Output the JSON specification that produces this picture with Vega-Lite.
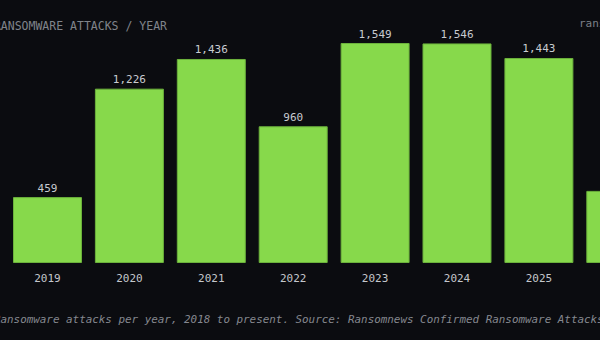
{
  "$schema": "https://vega.github.io/schema/vega-lite/v6.json",
  "width": 600,
  "height": 219,
  "autosize": {"type": "none"},
  "padding": {"left": 0, "right": 0, "top": 43.5, "bottom": 77.5},
  "background": "#0b0c10",
  "title": {
    "text": "ransomnews.online",
    "anchor": "end",
    "frame": "group",
    "align": "left",
    "dx": -21,
    "dy": 17,
    "baseline": "alphabetic",
    "offset": 0,
    "font": "DejaVu Sans Mono",
    "fontSize": 11,
    "fontWeight": "normal",
    "color": "#7c8088"
  },
  "data": {
    "values": [
      {"year": "2019", "attacks": 459},
      {"year": "2020", "attacks": 1226},
      {"year": "2021", "attacks": 1436},
      {"year": "2022", "attacks": 960},
      {"year": "2023", "attacks": 1549},
      {"year": "2024", "attacks": 1546},
      {"year": "2025", "attacks": 1443},
      {"year": "2026", "attacks": 503}
    ]
  },
  "encoding": {
    "x": {
      "field": "year",
      "type": "ordinal",
      "scale": {
        "domain": ["2019", "2020", "2021", "2022", "2023", "2024", "2025", "2026"],
        "range": [13.5, 654.8],
        "paddingInner": 0.17,
        "paddingOuter": 0
      },
      "axis": {
        "orient": "bottom",
        "domain": false,
        "ticks": false,
        "grid": false,
        "labelAngle": 0,
        "labelColor": "#c4c7cc",
        "labelFont": "DejaVu Sans Mono",
        "labelFontSize": 11,
        "labelPadding": 10,
        "title": "Ransomware attacks per year, 2018 to present. Source: Ransomnews Confirmed Ransomware Attacks dataset",
        "titleFont": "DejaVu Sans Mono",
        "titleFontSize": 10.9,
        "titleFontStyle": "italic",
        "titleFontWeight": "normal",
        "titleColor": "#85888f",
        "titleAlign": "left",
        "titleAnchor": "start",
        "titleBaseline": "alphabetic",
        "titleX": -6.6,
        "titleY": 59.5
      }
    },
    "y": {
      "field": "attacks",
      "type": "quantitative",
      "scale": {"domain": [0, 1549], "nice": false},
      "axis": {
        "orient": "left",
        "labels": false,
        "ticks": false,
        "domain": false,
        "grid": false,
        "title": "RANSOMWARE ATTACKS / YEAR",
        "titleAngle": 0,
        "titleAlign": "left",
        "titleBaseline": "alphabetic",
        "titleX": -6.6,
        "titleY": -14,
        "titleFont": "DejaVu Sans Mono",
        "titleFontSize": 11.5,
        "titleFontWeight": "normal",
        "titleColor": "#80848b"
      }
    }
  },
  "layer": [
    {"mark": {"type": "bar", "fill": "#87d94b", "stroke": "#6cb23c", "strokeWidth": 1}},
    {
      "mark": {
        "type": "text",
        "dy": -6,
        "baseline": "alphabetic",
        "font": "DejaVu Sans Mono",
        "fontSize": 11,
        "color": "#c8cbd0"
      },
      "encoding": {"text": {"field": "attacks", "type": "quantitative", "format": ","}}
    }
  ],
  "config": {"view": {"stroke": null}}
}
